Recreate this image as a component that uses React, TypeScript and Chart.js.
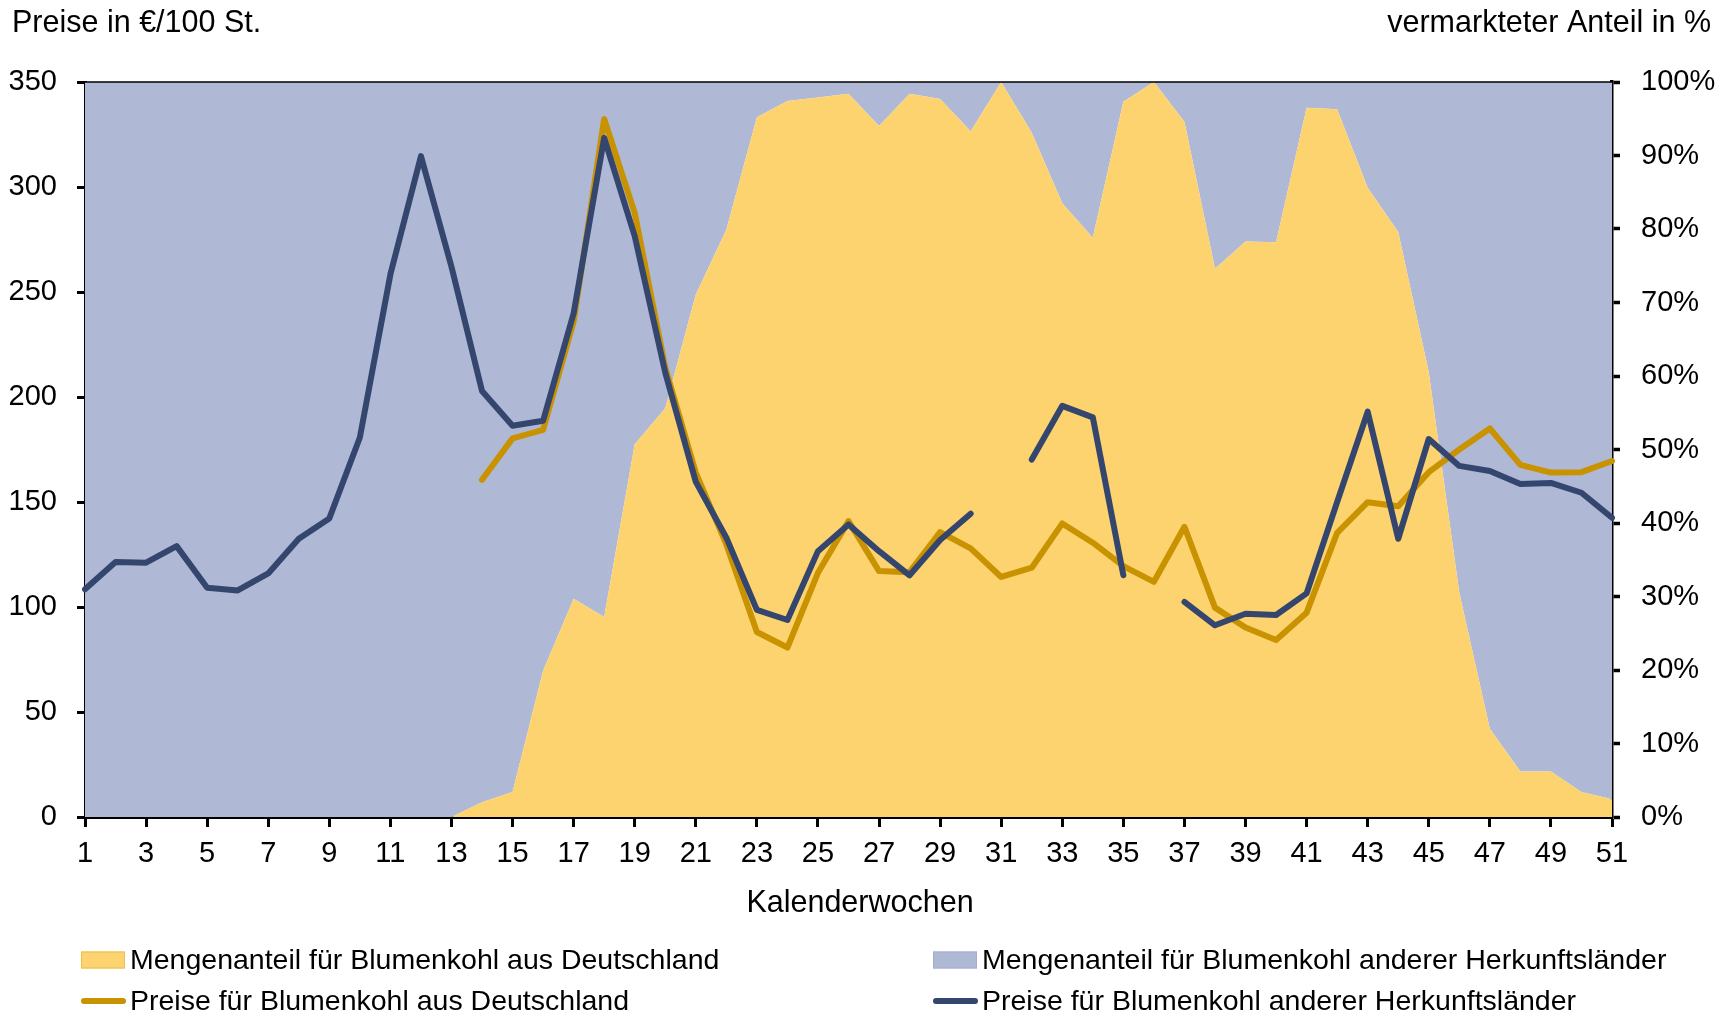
import React, { useEffect, useRef } from 'react';
import { Chart, registerables } from 'chart.js';

Chart.register(...registerables);

// ---- Data ----
const weeks = [
  '1', '2', '3', '4', '5', '6', '7', '8', '9', '10',
  '11', '12', '13', '14', '15', '16', '17', '18', '19', '20',
  '21', '22', '23', '24', '25', '26', '27', '28', '29', '30',
  '31', '32', '33', '34', '35', '36', '37', '38', '39', '40',
  '41', '42', '43', '44', '45', '46', '47', '48', '49', '50', '51',
];

// share of German cauliflower in marketed quantity (%)
const shareGermany = [
  0, 0, 0, 0, 0, 0, 0, 0, 0, 0,
  0, 0, 0, 2.0, 3.4, 19.9, 29.7, 27.2, 50.7, 55.6,
  71.1, 79.9, 95.2, 97.4, 97.9, 98.4, 94.0, 98.4, 97.7, 93.3,
  100, 93.1, 83.5, 78.8, 97.3, 100, 94.6, 74.6, 78.3, 78.2,
  96.5, 96.3, 85.6, 79.6, 60.5, 30.5, 12.0, 6.2, 6.2, 3.4, 2.4,
];

// prices €/100 pcs, Germany
const priceGermany = [
  null, null, null, null, null, null, null, null, null, null,
  null, null, null, 160.6, 180.3, 184.3, 236, 332.4, 287.7, 214,
  164, 129.8, 88.1, 80.7, 116.3, 140.9, 117.1, 116.6, 135.7, 127.9,
  114.3, 118.7, 139.8, 130.6, 119.5, 112, 138.2, 99.7, 90.2, 84.3,
  97.3, 135.3, 149.9, 148, 164.2, 175, 185, 167.7, 164, 164.2, 169.5,
];

// prices €/100 pcs, other countries of origin
const priceOther = [
  108.4, 121.4, 121.1, 129, 109.2, 107.9, 116, 132.5, 142.2, 180.7,
  258.4, 314.7, 262, 202.9, 186.3, 188.7, 239.9, 323.4, 276.6, 211.6,
  159.6, 133, 98.6, 93.8, 126.6, 139.3, 126.6, 115.1, 131.9, 144.4,
  null, 170.2, 195.8, 190.3, 115.1, null, 102.4, 91.3, 96.8, 96.2,
  106.5, 150, 193, 132.5, 180, 167.2, 164.8, 158.6, 159.1, 154.4, 142.5,
];

const legendLabels = [
  'Mengenanteil für Blumenkohl aus Deutschland',
  'Mengenanteil für Blumenkohl anderer Herkunftsländer',
  'Preise für Blumenkohl aus Deutschland',
  'Preise für Blumenkohl anderer Herkunftsländer',
];

const leftTitle = 'Preise in €/100 St.';
const rightTitle = 'vermarkteter Anteil in %';
const xTitle = 'Kalenderwochen';

// ---- Styles ----
const FONT = '"Liberation Sans", Arial, sans-serif';
const YELLOW_AREA = '#FDD36F';
const BLUE_AREA = '#AFB9D6';
const GOLD_LINE = '#C89200';
const NAVY_LINE = '#35466E';
const LINE_W = 6;
const W = 1731;
const H = 1015;

const decorPlugin = {
  id: 'decor',
  afterDraw(chart: any) {
    const { ctx, chartArea } = chart;
    ctx.save();
    // thin top frame line
    ctx.strokeStyle = '#000';
    ctx.lineWidth = 1.5;
    ctx.beginPath();
    ctx.moveTo(chartArea.left, chartArea.top);
    ctx.lineTo(chartArea.right, chartArea.top);
    ctx.stroke();

    ctx.fillStyle = '#000';
    ctx.textBaseline = 'alphabetic';
    ctx.font = `30.5px ${FONT}`;
    ctx.textAlign = 'left';
    ctx.fillText(leftTitle, 12, 32);
    ctx.textAlign = 'right';
    ctx.fillText(rightTitle, 1711, 32);
    ctx.textAlign = 'center';
    ctx.fillText(xTitle, 860, 912);

    // legend
    ctx.font = `28.5px ${FONT}`;
    ctx.textAlign = 'left';
    ctx.textBaseline = 'middle';
    const rows = [960, 1001];
    const cols = [81, 933];
    const items = [
      { type: 'box', color: YELLOW_AREA, edge: '#EDBE45', col: 0, row: 0 },
      { type: 'box', color: BLUE_AREA, edge: '#A3AECF', col: 1, row: 0 },
      { type: 'line', color: GOLD_LINE, col: 0, row: 1 },
      { type: 'line', color: NAVY_LINE, col: 1, row: 1 },
    ];
    items.forEach((it, i) => {
      const x = cols[it.col];
      const y = rows[it.row];
      if (it.type === 'box') {
        ctx.fillStyle = it.color;
        ctx.fillRect(x, y - 8.5, 44, 17);
        ctx.strokeStyle = it.edge as string;
        ctx.lineWidth = 1;
        ctx.strokeRect(x + 0.5, y - 8, 43, 16);
      } else {
        ctx.strokeStyle = it.color;
        ctx.lineWidth = LINE_W;
        ctx.lineCap = 'round';
        ctx.beginPath();
        ctx.moveTo(x + 3, y);
        ctx.lineTo(x + 42, y);
        ctx.stroke();
      }
      ctx.fillStyle = '#000';
      ctx.fillText(legendLabels[i], x + 49, y + 1);
    });
    ctx.restore();
  },
};

export default function App() {
  const canvasRef = useRef<HTMLCanvasElement | null>(null);

  useEffect(() => {
    const canvas = canvasRef.current;
    if (!canvas) return;
    const tickFont = { family: FONT, size: 29 };
    const chart = new Chart(canvas, {
      type: 'line',
      data: {
        labels: weeks,
        datasets: [
          {
            label: legendLabels[3],
            data: priceOther,
            yAxisID: 'y',
            borderColor: NAVY_LINE,
            borderWidth: LINE_W,
            borderCapStyle: 'round',
            borderJoinStyle: 'round',
            pointRadius: 0,
            fill: false,
            spanGaps: false,
            tension: 0,
            order: 0,
          },
          {
            label: legendLabels[2],
            data: priceGermany,
            yAxisID: 'y',
            borderColor: GOLD_LINE,
            borderWidth: LINE_W,
            borderCapStyle: 'round',
            borderJoinStyle: 'round',
            pointRadius: 0,
            fill: false,
            spanGaps: false,
            tension: 0,
            order: 1,
          },
          {
            label: legendLabels[0],
            data: shareGermany,
            yAxisID: 'y1',
            borderWidth: 0,
            borderColor: 'rgba(0,0,0,0)',
            backgroundColor: YELLOW_AREA,
            pointRadius: 0,
            fill: 'origin',
            tension: 0,
            order: 2,
          },
          {
            label: legendLabels[1],
            data: shareGermany,
            yAxisID: 'y1',
            borderWidth: 0,
            borderColor: 'rgba(0,0,0,0)',
            backgroundColor: BLUE_AREA,
            pointRadius: 0,
            fill: 'end',
            tension: 0,
            order: 3,
          },
        ],
      } as any,
      options: {
        animation: false,
        responsive: false,
        devicePixelRatio: 1,
        layout: { padding: { top: 82, left: 0, right: 0, bottom: 0 } },
        plugins: {
          legend: { display: false },
          tooltip: { enabled: false },
          title: { display: false },
        },
        scales: {
          x: {
            type: 'category',
            offset: false,
            grid: {
              drawOnChartArea: false,
              drawTicks: true,
              tickLength: 10,
              tickWidth: 3,
              tickColor: (c: any) => (c.index % 2 === 0 ? '#000' : 'rgba(0,0,0,0)'),
            },
            border: { display: true, color: '#000', width: 3 },
            ticks: {
              autoSkip: false,
              maxRotation: 0,
              minRotation: 0,
              color: '#000',
              font: tickFont,
              padding: 10,
              callback: (_v: any, i: number) => (i % 2 === 0 ? weeks[i] : ''),
            },
            afterFit: (s: any) => {
              s.height = H - 817;
            },
          },
          y: {
            position: 'left',
            min: 0,
            max: 350,
            grid: {
              drawOnChartArea: false,
              drawTicks: true,
              tickLength: 8,
              tickWidth: 3,
              tickColor: '#000',
            },
            border: { display: true, color: '#000', width: 3 },
            ticks: { stepSize: 50, color: '#000', font: tickFont, padding: 20 },
            afterFit: (s: any) => {
              s.width = 85;
            },
          },
          y1: {
            position: 'right',
            min: 0,
            max: 100,
            grid: {
              drawOnChartArea: false,
              drawTicks: true,
              tickLength: 8,
              tickWidth: 3.5,
              tickColor: '#000',
            },
            border: { display: true, color: '#000', width: 3.5 },
            ticks: {
              stepSize: 10,
              color: '#000',
              font: tickFont,
              padding: 21,
              callback: (v: any) => `${v}%`,
            },
            afterFit: (s: any) => {
              s.width = W - 1612;
            },
          },
        },
      } as any,
      plugins: [decorPlugin],
    });
    return () => chart.destroy();
  }, []);

  return (
    <div style={{ position: 'absolute', left: 0, top: 0, width: W, height: H, background: '#fff' }}>
      <canvas ref={canvasRef} width={W} height={H} style={{ width: W, height: H, display: 'block' }} />
    </div>
  );
}
